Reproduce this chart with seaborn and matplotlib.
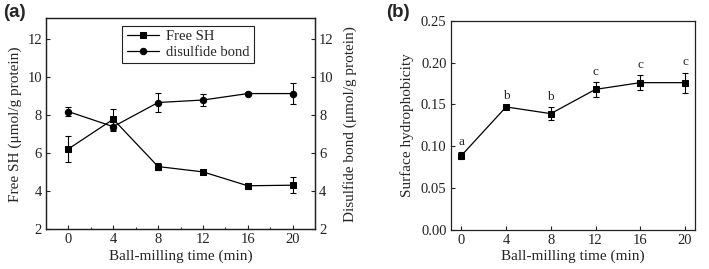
import numpy as np
import pandas as pd
import matplotlib
matplotlib.use("Agg")
import matplotlib.pyplot as plt
import seaborn as sns
from matplotlib.ticker import MultipleLocator, FormatStrFormatter

# ---- data ----
time_min = [0, 4, 8, 12, 16, 20]
free_sh = [6.23, 7.79, 5.30, 5.02, 4.29, 4.32]
free_sh_err = [0.70, 0.55, 0.20, 0.10, 0.15, 0.43]
disulfide = [8.19, 7.40, 8.67, 8.80, 9.14, 9.14]
disulfide_err = [0.25, 0.22, 0.50, 0.30, 0.06, 0.55]
hydro = [0.0888, 0.147, 0.139, 0.168, 0.176, 0.176]
hydro_err = [0.004, 0.0015, 0.008, 0.009, 0.009, 0.012]
hydro_letters = ["a", "b", "b", "c", "c", "c"]

sns.set_style("ticks")
plt.rcParams['font.family'] = ['Liberation Serif', 'DejaVu Serif']
plt.rcParams['mathtext.fontset'] = 'stix'
FS = 10.5
plt.rcParams.update({
    'font.size': FS,
    'axes.linewidth': 0.9,
    'axes.edgecolor': '#222222',
    'xtick.direction': 'in',
    'ytick.direction': 'in',
    'xtick.major.size': 3,
    'ytick.major.size': 3,
    'xtick.minor.size': 1.8,
    'xtick.major.width': 0.8,
    'ytick.major.width': 0.8,
    'xtick.minor.width': 0.7,
    'xtick.color': '#222222',
    'ytick.color': '#222222',
})

fig = plt.figure(figsize=(7.09, 2.69), dpi=100)

df = pd.DataFrame({"time": time_min, "sh": free_sh, "ss": disulfide, "h": hydro})

# ---- panel (a) ----
ax1 = fig.add_axes([0.0649, 0.1476, 0.3794, 0.7844])
ax2 = ax1.twinx()

sns.lineplot(data=df, x="time", y="sh", ax=ax1, color='k', marker='s', markersize=4.2,
             markeredgecolor='k', linewidth=0.9, label="Free SH", legend=False)
ax1.errorbar(time_min, free_sh, yerr=free_sh_err, fmt='none', ecolor='k',
             elinewidth=0.8, capsize=2.2, capthick=0.8)
sns.lineplot(data=df, x="time", y="ss", ax=ax2, color='k', marker='o', markersize=4.6,
             markeredgecolor='k', linewidth=0.9, label="disulfide bond", legend=False)
ax2.errorbar(time_min, disulfide, yerr=disulfide_err, fmt='none', ecolor='k',
             elinewidth=0.8, capsize=2.2, capthick=0.8)

for a in (ax1, ax2):
    a.set_ylim(2, 13.1)
    a.yaxis.set_major_locator(MultipleLocator(2))
ax1.set_xlim(-2, 22)
ax1.xaxis.set_major_locator(MultipleLocator(4))
ax1.xaxis.set_minor_locator(MultipleLocator(2))
ax1.set_xlabel("Ball-milling time (min)", fontsize=FS + 0.5, labelpad=2)
ax1.set_ylabel("Free SH (μmol/g protein)", fontsize=FS + 0.5, labelpad=4)
ax2.set_ylabel("Disulfide bond (μmol/g protein)", fontsize=FS + 0.5, labelpad=7)
ax1.tick_params(axis='both', labelsize=FS, pad=3)
ax2.tick_params(axis='y', labelsize=FS, pad=3)
for a in (ax1, ax2):
    for s in a.spines.values():
        s.set_visible(True)

h1, l1 = ax1.get_legend_handles_labels()
h2, l2 = ax2.get_legend_handles_labels()
leg = ax2.legend(h1 + h2, l1 + l2, loc='upper left', bbox_to_anchor=(0.283, 0.965),
                 fancybox=False, edgecolor='#222222', framealpha=1, fontsize=FS,
                 handlelength=2.2, handletextpad=0.5, borderpad=0.3, labelspacing=0.15,
                 borderaxespad=0)
leg.get_frame().set_linewidth(0.8)

fig.text(0.004, 0.985, "(a)", fontsize=13.5, fontweight='bold',
         family=['Liberation Sans', 'DejaVu Sans'], va='top', ha='left')

# ---- panel (b) ----
ax3 = fig.add_axes([0.6357, 0.145, 0.3446, 0.778])
sns.lineplot(data=df, x="time", y="h", ax=ax3, color='k', marker='s', markersize=4.2,
             markeredgecolor='k', linewidth=0.9, legend=False)
ax3.errorbar(time_min, hydro, yerr=hydro_err, fmt='none', ecolor='k',
             elinewidth=0.8, capsize=2.2, capthick=0.8)
for t, v, e, lab in zip(time_min, hydro, hydro_err, hydro_letters):
    ax3.annotate(lab, (t, v + e), xytext=(0, 3), textcoords='offset points',
                 ha='center', va='bottom', fontsize=FS - 1)
ax3.set_xlim(-0.95, 20.9)
ax3.set_ylim(0, 0.25)
ax3.xaxis.set_major_locator(MultipleLocator(4))
ax3.yaxis.set_major_locator(MultipleLocator(0.05))
ax3.yaxis.set_major_formatter(FormatStrFormatter('%.2f'))
ax3.set_xlabel("Ball-milling time (min)", fontsize=FS + 0.5, labelpad=2)
ax3.set_ylabel("Surface hydrophobicity", fontsize=FS + 0.5, labelpad=5)
ax3.tick_params(axis='both', labelsize=FS, pad=3)
for s in ax3.spines.values():
    s.set_visible(True)

fig.text(0.545, 0.985, "(b)", fontsize=13.5, fontweight='bold',
         family=['Liberation Sans', 'DejaVu Sans'], va='top', ha='left')

fig.savefig("out.png", dpi=100)
